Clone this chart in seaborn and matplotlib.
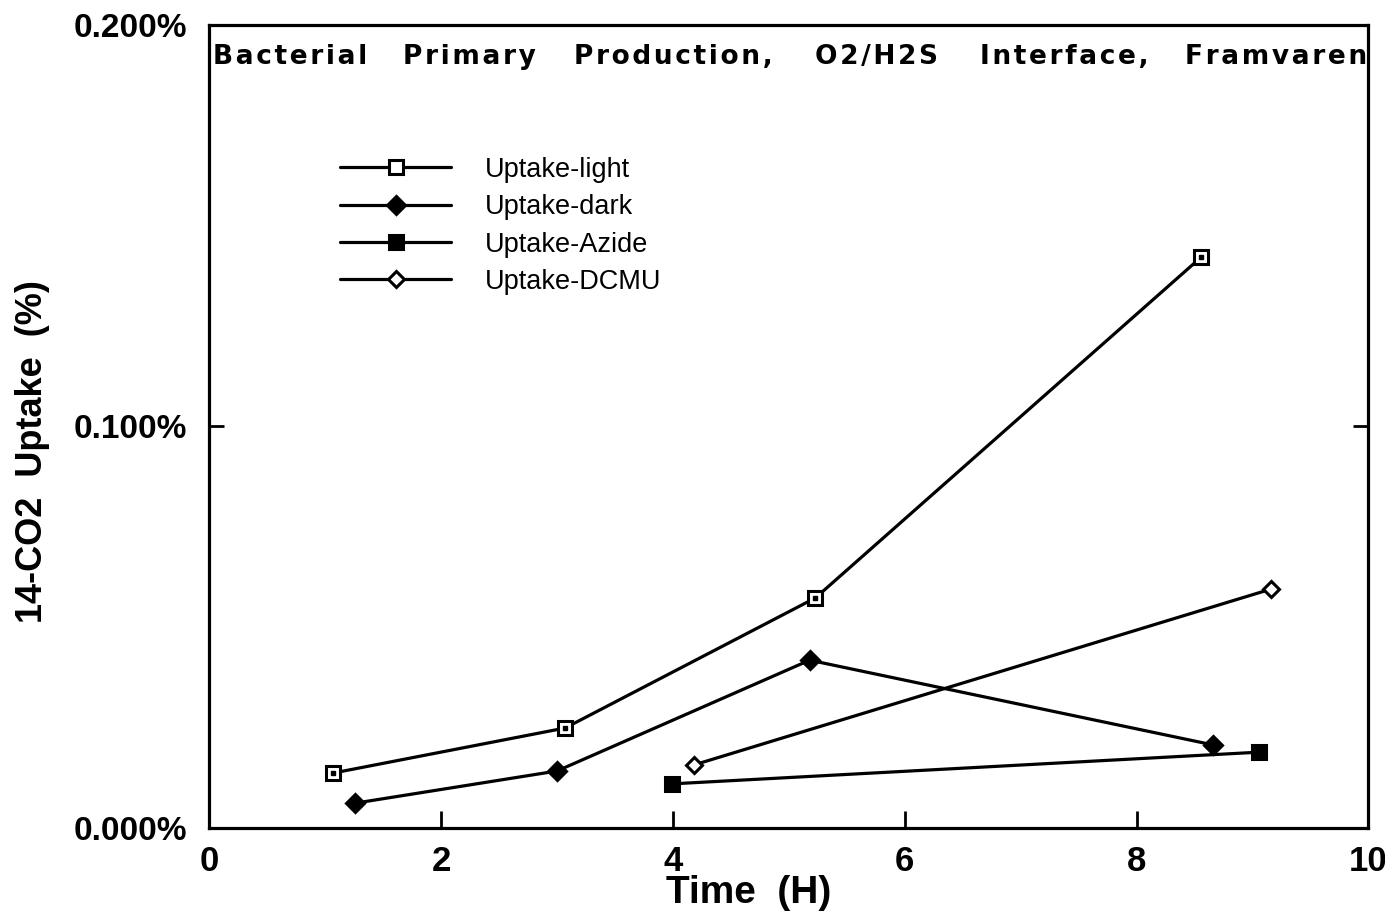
import numpy as np
import pandas as pd
import matplotlib
matplotlib.use("Agg")
import matplotlib.pyplot as plt
from matplotlib.ticker import FuncFormatter
import seaborn as sns

# values (time in hours, uptake in %)
light_t = [1.07, 3.07, 5.23, 8.56]
light_v = [0.0137, 0.0249, 0.0573, 0.1422]
dark_t = [1.26, 3.00, 5.18, 8.66]
dark_v = [0.0062, 0.0142, 0.0418, 0.0207]
azide_t = [3.99, 9.06]
azide_v = [0.0110, 0.0189]
dcmu_t = [4.18, 9.16]
dcmu_v = [0.0157, 0.0595]

series_names = ["Uptake-light", "Uptake-dark", "Uptake-Azide", "Uptake-DCMU"]
title_words = ["Bacterial", "Primary", "Production,", "O2/H2S", "Interface,", "Framvaren"]
title_x = [0.003, 0.167, 0.315, 0.523, 0.665, 0.842]

sns.set_style("ticks")
plt.rcParams["font.family"] = ["Liberation Sans", "DejaVu Sans"]
plt.rcParams["text.color"] = "black"
plt.rcParams["axes.labelcolor"] = "black"
plt.rcParams["xtick.color"] = "black"
plt.rcParams["ytick.color"] = "black"
plt.rcParams["axes.edgecolor"] = "black"

frames = []
for name, t, v in zip(series_names, [light_t, dark_t, azide_t, dcmu_t],
                      [light_v, dark_v, azide_v, dcmu_v]):
    frames.append(pd.DataFrame({"time": t, "uptake": v, "series": name}))
df = pd.concat(frames, ignore_index=True)

styles = {
    "Uptake-light": dict(marker="s", markerfacecolor="white", markersize=10),
    "Uptake-dark": dict(marker="D", markerfacecolor="black", markersize=9),
    "Uptake-Azide": dict(marker="s", markerfacecolor="black", markersize=10),
    "Uptake-DCMU": dict(marker="D", markerfacecolor="white", markersize=8),
}

fig = plt.figure(figsize=(13.85, 9.16), dpi=100)
ax = fig.add_axes([0.151, 0.096, 0.837, 0.877])

for name in series_names:
    sub = df[df["series"] == name]
    sns.lineplot(data=sub, x="time", y="uptake", ax=ax, color="black",
                 linewidth=2.3, markeredgecolor="black", markeredgewidth=2.2,
                 label=name, sort=False, **styles[name])

# small centre dot on the open squares
sub = df[df["series"] == "Uptake-light"]
ax.plot(sub["time"], sub["uptake"], linestyle="none", marker="s",
        markersize=2.5, color="black")

ax.set_xlim(0, 10)
ax.set_ylim(0, 0.2)
ax.set_xticks([0, 2, 4, 6, 8, 10])
ax.set_yticks([0, 0.1, 0.2])
ax.yaxis.set_major_formatter(FuncFormatter(lambda v, p: f"{v:.3f}%"))

for s in ax.spines.values():
    s.set_visible(True)
    s.set_linewidth(2.3)
ax.tick_params(axis="x", direction="in", length=12, width=2, pad=12,
               labelsize=25)
ax.tick_params(axis="y", direction="in", length=11, width=2, pad=16,
               labelsize=24, right=True)
for lbl in ax.get_xticklabels() + ax.get_yticklabels():
    lbl.set_fontweight("bold")

ax.set_xlabel("Time  (H)", fontsize=28, fontweight="bold")
ax.xaxis.set_label_coords(0.465, -0.059)
ax.set_ylabel("14-CO2  Uptake  (%)", fontsize=26, fontweight="bold")
ax.yaxis.set_label_coords(-0.137, 0.469)

# the original title is letter-spaced; hair spaces stretch it out
for w, x in zip(title_words, title_x):
    ax.text(x, 0.960, "\u200a".join(w), transform=ax.transAxes, fontsize=19,
            fontweight="bold", family=["DejaVu Sans"], va="center", ha="left")

leg = ax.legend(loc="upper left", bbox_to_anchor=(0.092, 0.866), frameon=False,
                fontsize=19.5, handlelength=4.1, handletextpad=1.25,
                labelspacing=0.42)

fig.savefig("out.png", dpi=100)
